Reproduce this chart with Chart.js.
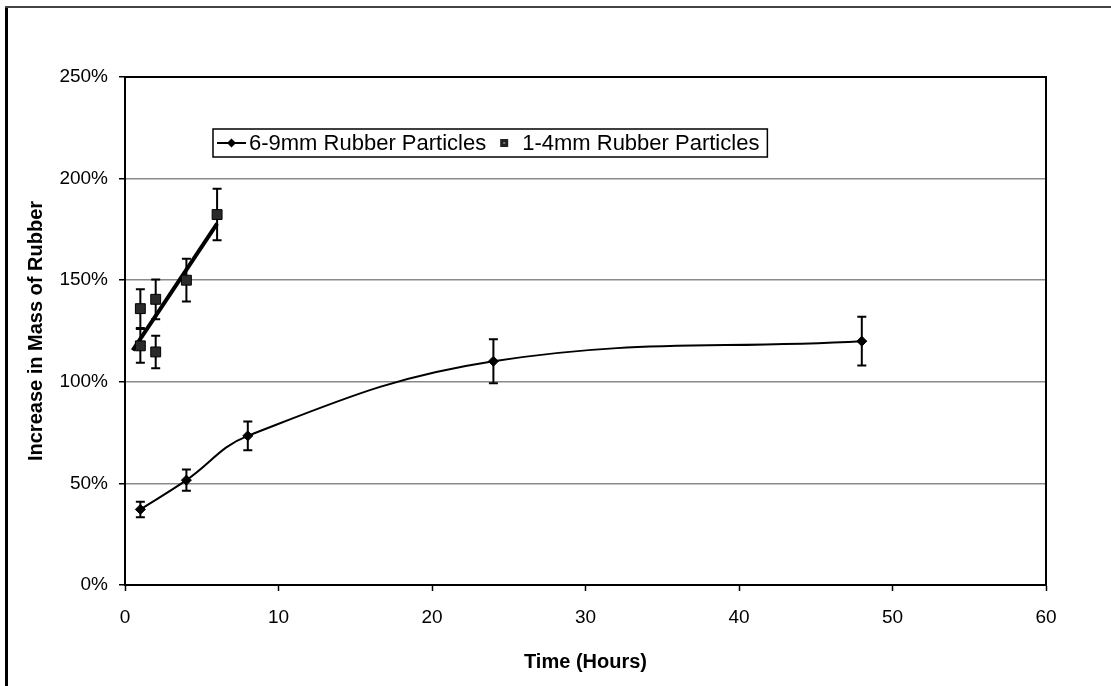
<!DOCTYPE html>
<html>
<head>
<meta charset="utf-8">
<title>Increase in Mass of Rubber</title>
<script src="https://cdn.jsdelivr.net/npm/chart.js@4.4.0/dist/chart.umd.min.js"></script>
<style>
  html, body { margin: 0; padding: 0; background: #fff; }
  canvas { display: block; }
</style>
</head>
<body>
<canvas id="chart" width="1111" height="686"></canvas>
<script>
// 6-9mm particles: hours, mean mass increase (%), error (+/- %)
const hours69 = [1, 4, 8, 24, 48];
const mass69 = [37.2, 51.6, 73.4, 110.1, 120.0];
const err69 = [3.8, 5.2, 7.1, 10.8, 12.0];

// 1-4mm particles: individual runs
const hours14 = [1, 1, 2, 2, 4, 6];
const mass14 = [136.0, 117.7, 140.6, 114.7, 150.0, 182.3];
const err14 = [9.5, 8.3, 9.8, 8.0, 10.5, 12.7];

// linear trend through the 1-4mm runs
const trendHours = [0.5, 6];
const trendMass = [115.5, 177.8];

const xTicks = [0, 10, 20, 30, 40, 50, 60];
const yTicks = [0, 50, 100, 150, 200, 250];

const seriesNames = ['6-9mm Rubber Particles', '1-4mm Rubber Particles'];
const xTitle = 'Time (Hours)';
const yTitle = 'Increase in Mass of Rubber';

const FONT = '"Liberation Sans", Arial, Helvetica, sans-serif';
Chart.defaults.font.family = FONT;
Chart.defaults.color = '#000';

const toPoints = (xs, ys) => xs.map((x, i) => ({ x: x, y: ys[i] }));

// vertical error bars with caps, drawn behind the markers
const errorBars = {
  id: 'errorBars',
  beforeDatasetsDraw(chart) {
    const { ctx, scales } = chart;
    const xs = scales.x, ys = scales.y;
    chart.data.datasets.forEach(ds => {
      if (!ds.errors) return;
      ctx.save();
      ctx.strokeStyle = '#000';
      ctx.lineWidth = 2;
      ds.data.forEach((p, i) => {
        const e = ds.errors[i];
        const px = xs.getPixelForValue(p.x);
        const top = ys.getPixelForValue(p.y + e);
        const bot = ys.getPixelForValue(p.y - e);
        const cap = 4.5;
        ctx.beginPath();
        ctx.moveTo(px, top); ctx.lineTo(px, bot);
        ctx.moveTo(px - cap, top); ctx.lineTo(px + cap, top);
        ctx.moveTo(px - cap, bot); ctx.lineTo(px + cap, bot);
        ctx.stroke();
      });
      ctx.restore();
    });
  }
};

// plot frame plus the page rule lines on the left and top
const frame = {
  id: 'frame',
  afterDatasetsDraw(chart) {
    const { ctx, chartArea: a } = chart;
    ctx.save();
    ctx.strokeStyle = '#000';
    ctx.lineWidth = 2;
    ctx.strokeRect(a.left, a.top, a.right - a.left, a.bottom - a.top);
    ctx.restore();
  },
  afterDraw(chart) {
    const ctx = chart.ctx;
    ctx.save();
    ctx.fillStyle = '#000';
    ctx.fillRect(5, 6, 3, chart.height - 6);
    ctx.fillStyle = '#444';
    ctx.fillRect(5, 6, chart.width - 5, 2);
    ctx.restore();
  }
};

// boxed legend inside the plot area
const boxLegend = {
  id: 'boxLegend',
  afterDraw(chart) {
    const ctx = chart.ctx;
    const left = 213, top = 129, h = 28;
    const mid = top + h / 2;
    ctx.save();
    ctx.font = '22px ' + FONT;
    ctx.textBaseline = 'middle';
    ctx.fillStyle = '#000';
    const w1 = ctx.measureText(seriesNames[0]).width;
    const w2 = ctx.measureText(seriesNames[1]).width;
    const lineL = left + 4, lineR = left + 33;
    const t1 = lineR + 3;
    const sq = t1 + w1 + 18;
    const t2 = sq + 18;
    const right = t2 + w2 + 8;

    ctx.fillStyle = '#fff';
    ctx.fillRect(left, top, right - left, h);
    ctx.strokeStyle = '#000';
    ctx.lineWidth = 1.5;
    ctx.strokeRect(left, top, right - left, h);

    // 6-9mm sample: line with diamond
    ctx.lineWidth = 2;
    ctx.beginPath();
    ctx.moveTo(lineL, mid); ctx.lineTo(lineR, mid);
    ctx.stroke();
    const cx = (lineL + lineR) / 2, r = 4.5;
    ctx.fillStyle = '#000';
    ctx.beginPath();
    ctx.moveTo(cx, mid - r); ctx.lineTo(cx + r, mid); ctx.lineTo(cx, mid + r); ctx.lineTo(cx - r, mid);
    ctx.closePath(); ctx.fill();
    ctx.fillText(seriesNames[0], t1, mid + 1);

    // 1-4mm sample: square
    ctx.fillStyle = '#222';
    ctx.fillRect(sq - 4, mid - 4, 8, 8);
    ctx.fillStyle = '#777';
    ctx.fillRect(sq - 1, mid - 1, 2, 2);
    ctx.fillStyle = '#000';
    ctx.fillText(seriesNames[1], t2, mid + 1);
    ctx.restore();
  }
};

new Chart(document.getElementById('chart'), {
  type: 'scatter',
  data: {
    datasets: [
      {
        label: seriesNames[0],
        data: toPoints(hours69, mass69),
        errors: err69,
        showLine: true,
        tension: 0.4,
        borderColor: '#000',
        borderWidth: 2,
        pointStyle: 'rectRot',
        pointRadius: 5,
        pointBackgroundColor: '#000',
        pointBorderColor: '#000',
        pointBorderWidth: 1,
        order: 2
      },
      {
        label: seriesNames[1],
        data: toPoints(hours14, mass14),
        errors: err14,
        showLine: false,
        pointStyle: 'rect',
        pointRadius: 7,
        pointBackgroundColor: '#2a2a2a',
        pointBorderColor: '#000',
        pointBorderWidth: 1,
        order: 1
      },
      {
        label: 'trend',
        data: toPoints(trendHours, trendMass),
        showLine: true,
        borderColor: '#000',
        borderWidth: 4,
        pointRadius: 0,
        order: 3
      }
    ]
  },
  options: {
    responsive: false,
    animation: false,
    devicePixelRatio: 1,
    layout: { padding: { top: 77, right: 65, left: 0, bottom: 0 } },
    plugins: {
      legend: { display: false },
      tooltip: { enabled: false }
    },
    scales: {
      x: {
        type: 'linear',
        min: xTicks[0],
        max: xTicks[xTicks.length - 1],
        afterBuildTicks: s => { s.ticks = xTicks.map(v => ({ value: v })); },
        afterFit: s => { s.height = 101; },
        ticks: { font: { size: 19 }, color: '#000', padding: 15, maxRotation: 0 },
        grid: { drawOnChartArea: false, drawTicks: true, tickLength: 6, tickColor: '#000', tickWidth: 1.5 },
        border: { display: true, color: '#000', width: 2 },
        title: { display: true, text: xTitle, font: { size: 20, weight: 'bold' }, color: '#000', padding: { top: 0, bottom: 12 } }
      },
      y: {
        type: 'linear',
        min: yTicks[0],
        max: yTicks[yTicks.length - 1],
        afterBuildTicks: s => { s.ticks = yTicks.map(v => ({ value: v })); },
        afterFit: s => { s.width = 125; },
        ticks: { font: { size: 19 }, color: '#000', padding: 11, callback: v => v + '%' },
        grid: { color: '#8a8a8a', lineWidth: 1.5, tickLength: 6, tickColor: '#000', tickWidth: 1.5 },
        border: { display: true, color: '#000', width: 2 },
        title: { display: true, text: yTitle, font: { size: 20, weight: 'bold' }, color: '#000', padding: { top: 24, bottom: 0 } }
      }
    }
  },
  plugins: [errorBars, frame, boxLegend]
});
</script>
</body>
</html>
